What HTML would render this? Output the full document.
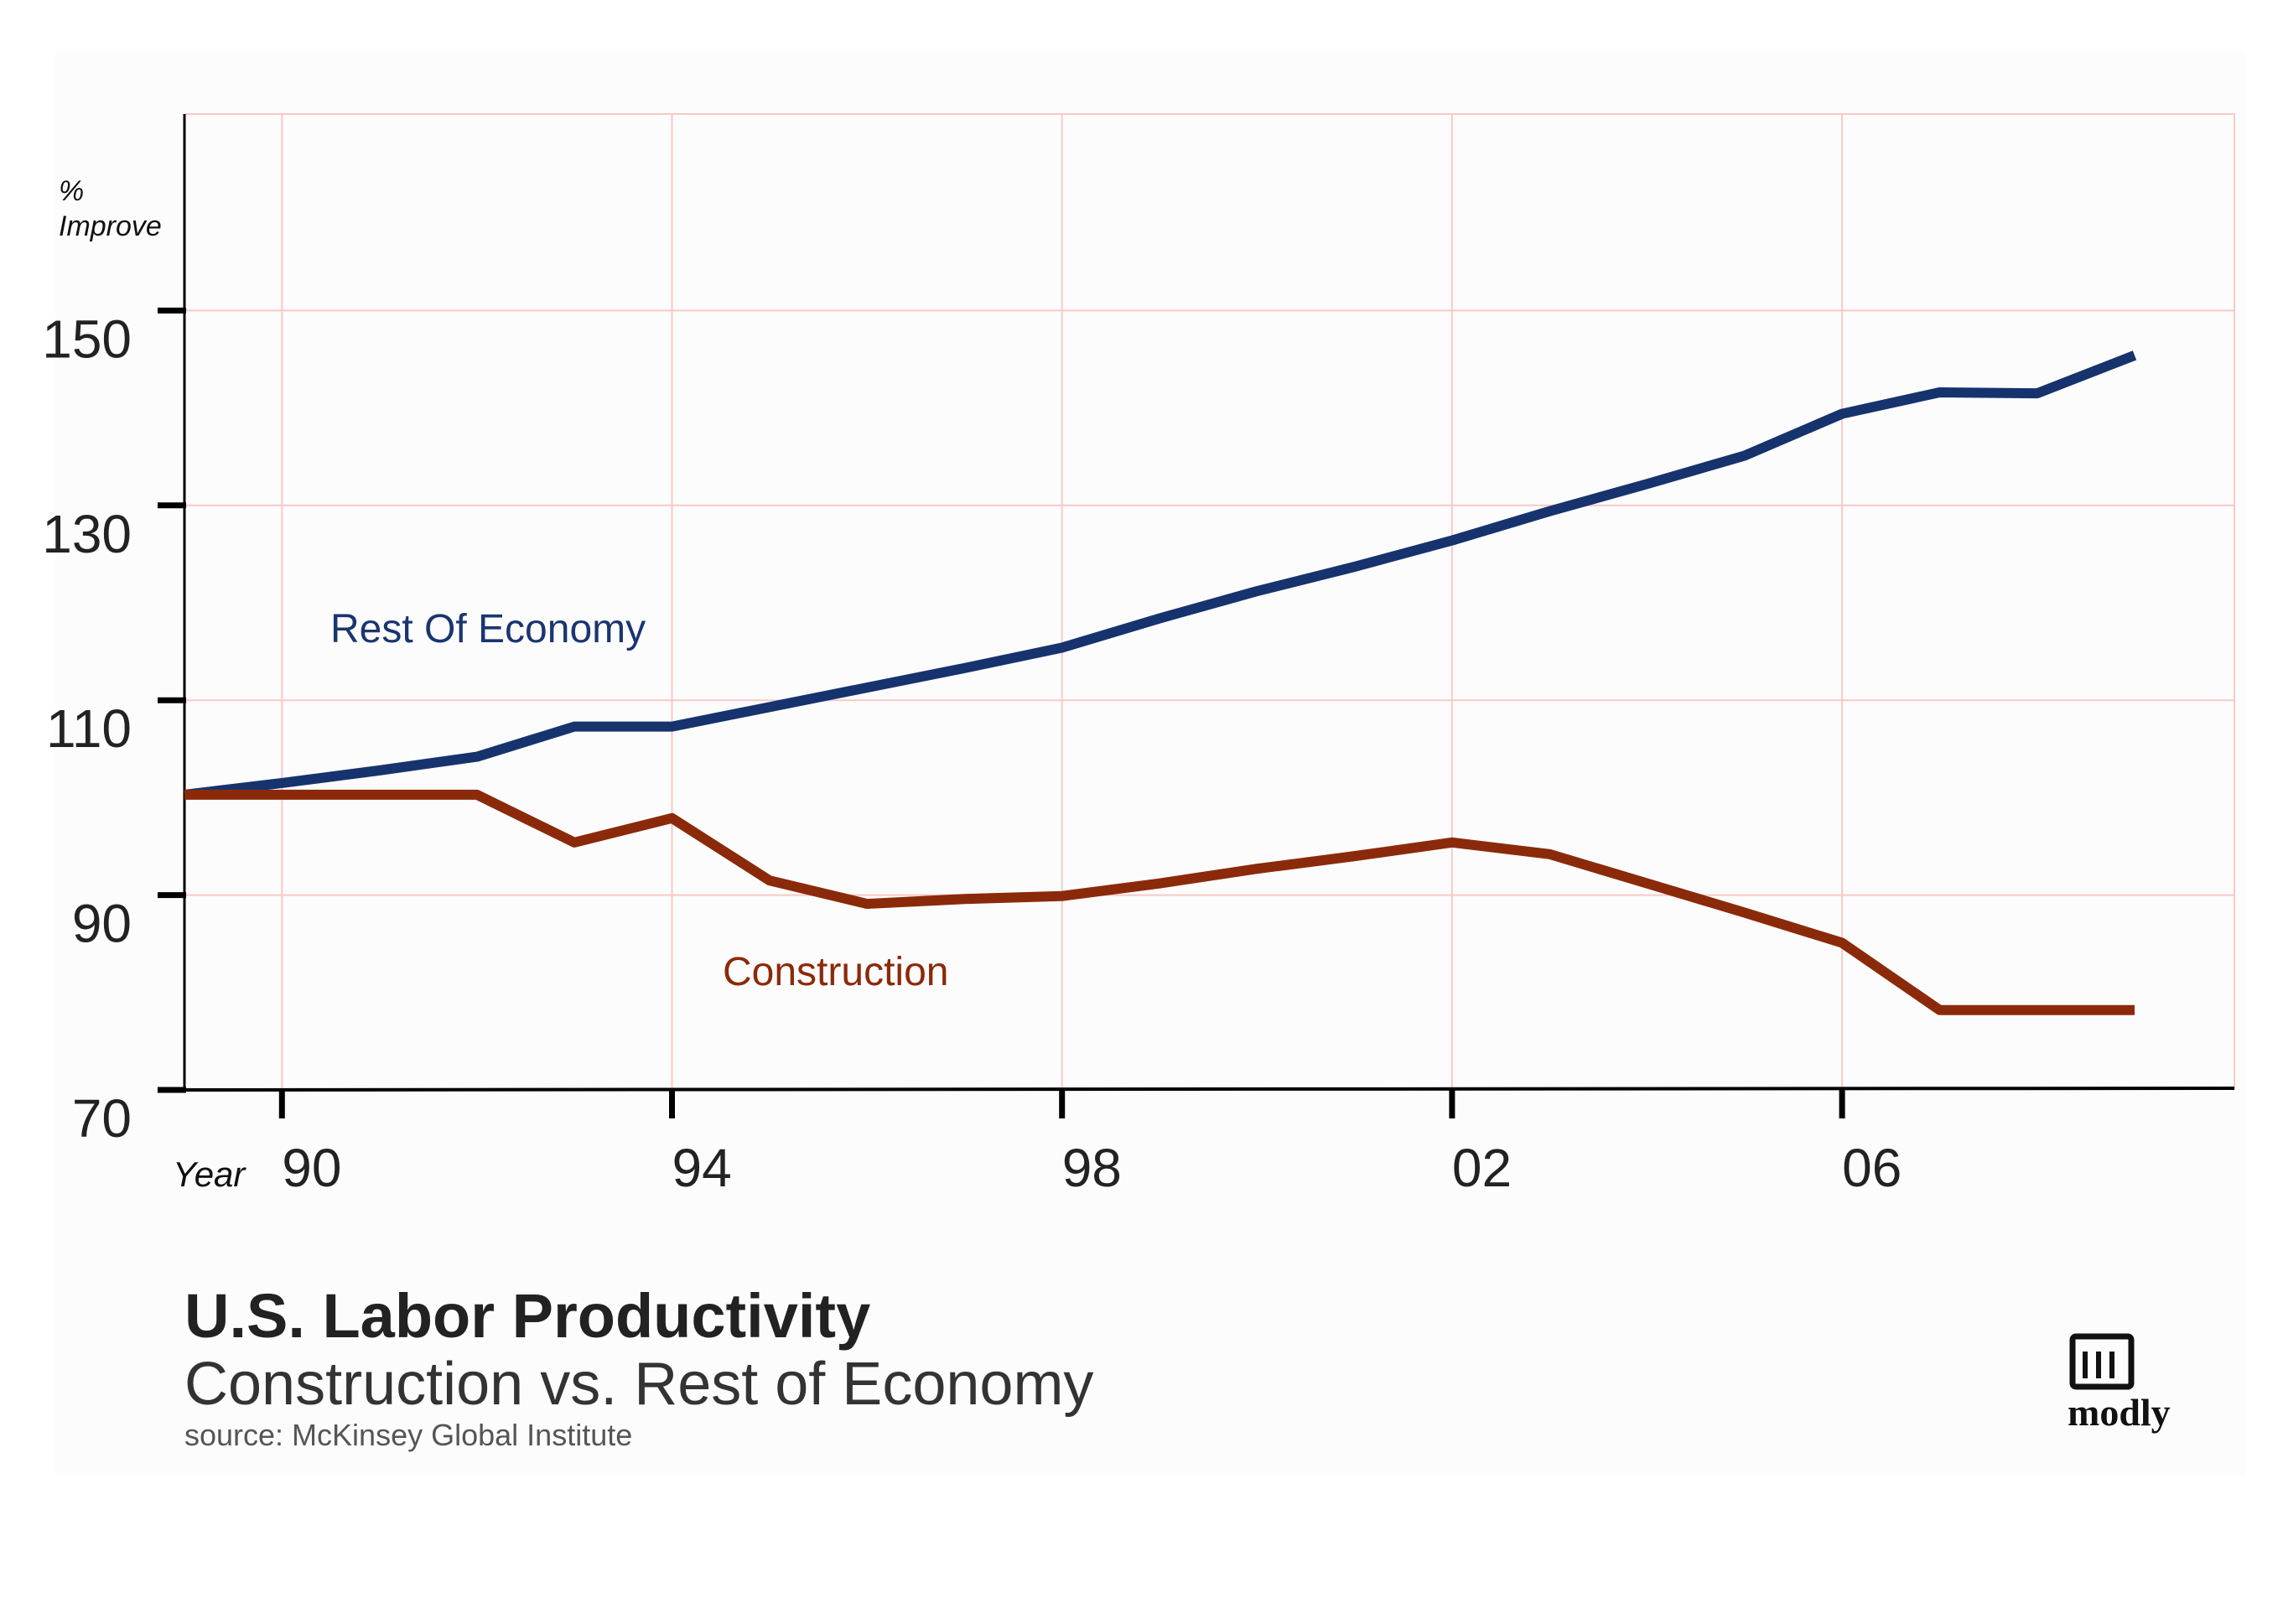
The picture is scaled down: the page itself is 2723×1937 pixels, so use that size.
<!DOCTYPE html>
<html><head><meta charset="utf-8"><style>
html,body{margin:0;padding:0;background:#fff;}
svg{display:block;font-family:"Liberation Sans",sans-serif;}
</style></head><body>
<svg id="chart" width="2723" height="1937" viewBox="0 0 2723 1937">
<rect x="66" y="60" width="2612" height="1700" fill="#fcfcfc"/>
<g id="grid"></g>
<g id="axes"></g>
<g id="series"></g>
<text x="70" y="239" font-size="34" font-style="italic" fill="#111"><tspan x="70">%</tspan><tspan x="70" y="281">Improve</tspan></text>
<text x="206" y="1415" font-size="42" font-style="italic" fill="#111">Year</text>
<text x="394" y="766" font-size="48" fill="#1a3570">Rest Of Economy</text>
<text x="862" y="1175" font-size="48" fill="#8b2a0a">Construction</text>
<text x="220" y="1595" font-size="74" font-weight="bold" fill="#222">U.S. Labor Productivity</text>
<text x="220" y="1675" font-size="72" fill="#333">Construction vs. Rest of Economy</text>
<text x="220" y="1724" font-size="36" fill="#555">source: McKinsey Global Institute</text>
<g>
<rect x="2472" y="1594" width="70" height="60" fill="none" stroke="#111" stroke-width="7" rx="4"/>
<rect x="2484" y="1612" width="6" height="32" fill="#111"/><rect x="2500" y="1612" width="6" height="32" fill="#111"/><rect x="2516" y="1612" width="6" height="32" fill="#111"/>
<text x="2466" y="1700" font-size="46" font-weight="bold" font-family="Liberation Serif,serif" fill="#111">modly</text>
</g>
</svg>
<script>
const years=[1989,1990,1991,1992,1993,1994,1995,1996,1997,1998,1999,2000,2001,2002,2003,2004,2005,2006,2007,2008,2009];
const restOfEconomy=[100.3,101.5,102.8,104.2,107.3,107.3,109.3,111.3,113.3,115.4,118.4,121.2,123.7,126.4,129.4,132.2,135.1,139.4,141.6,141.5,145.4];
const construction=[100.3,100.3,100.3,100.3,95.4,97.9,91.5,89.1,89.6,89.9,91.2,92.7,94.0,95.4,94.2,91.2,88.2,85.1,78.2,78.2,78.2];
const yTicks=[70,90,110,130,150];
const yTickLabels=["70","90","110","130","150"];
const xTicks=[1990,1994,1998,2002,2006];
const xTickLabels=["90","94","98","02","06"];
const NS="http://www.w3.org/2000/svg";
const X=y=>220+(y-1989)*116.3;
const Y=v=>1300-(v-70)*11.62;
function mk(tag,attrs,parent){const e=document.createElementNS(NS,tag);for(const k in attrs)e.setAttribute(k,attrs[k]);parent.appendChild(e);return e;}
const gridG=document.getElementById('grid'),axesG=document.getElementById('axes'),seriesG=document.getElementById('series');
const plotTop=136,plotRight=2665,plotBottom=Y(70);
let g=mk('line',{x1:220,y1:plotTop,x2:plotRight,y2:plotTop,stroke:'#f8c8c8','stroke-width':2},gridG);


g=mk('line',{x1:plotRight,y1:plotTop,x2:plotRight,y2:plotBottom,stroke:'#f8c8c8','stroke-width':2},gridG);


yTicks.forEach((v,i)=>{
 if(v>70){const l=mk('line',{x1:220,y1:Y(v),x2:plotRight,y2:Y(v),stroke:'#f8c8c8','stroke-width':2},gridG);
 
 }
 const t=mk('line',{x1:188,y1:Y(v),x2:222,y2:Y(v),stroke:'#000','stroke-width':7},axesG);
 
 
 const tx=mk('text',{x:157,y:Y(v)+56,'font-size':64,'text-anchor':'end',fill:'#222'},axesG);
 tx.textContent=yTickLabels[i];
 
 
});
xTicks.forEach((yr,i)=>{
 const l=mk('line',{x1:X(yr),y1:plotTop,x2:X(yr),y2:plotBottom,stroke:'#f8c8c8','stroke-width':2},gridG);
 
 
 const t=mk('line',{x1:X(yr),y1:plotBottom,x2:X(yr),y2:plotBottom+34,stroke:'#000','stroke-width':7},axesG);
 
 
 const tx=mk('text',{x:X(yr),y:plotBottom+115,'font-size':64,fill:'#222'},axesG);
 tx.textContent=xTickLabels[i];
 
 
});
let a=mk('line',{x1:220,y1:136,x2:220,y2:plotBottom+2,stroke:'#000','stroke-width':3},axesG);


a=mk('line',{x1:218,y1:plotBottom,x2:plotRight,y2:plotBottom-2,stroke:'#000','stroke-width':4},axesG);


function drawLine(vals,color,name){
 const p=mk('polyline',{points:vals.map((v,i)=>X(years[i])+','+Y(v)).join(' '),fill:'none',stroke:color,'stroke-width':12,'stroke-linejoin':'round'},seriesG);
 
 
}
drawLine(restOfEconomy,'#16336e','line-rest-of-economy');
drawLine(construction,'#8b2a0a','line-construction');
</script>
</body></html>
